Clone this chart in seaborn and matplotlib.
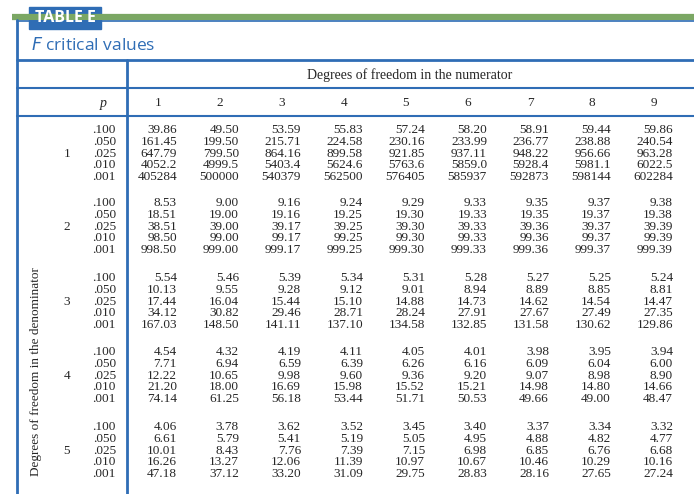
import matplotlib
matplotlib.use("Agg")
import matplotlib.pyplot as plt
import seaborn as sns

sns.set_style("white")

p_levels = [".100", ".050", ".025", ".010", ".001"]
num_df = ["1", "2", "3", "4", "5", "6", "7", "8", "9"]
den_df = ["1", "2", "3", "4", "5"]

den1 = [["39.86", "49.50", "53.59", "55.83", "57.24", "58.20", "58.91", "59.44", "59.86"],
        ["161.45", "199.50", "215.71", "224.58", "230.16", "233.99", "236.77", "238.88", "240.54"],
        ["647.79", "799.50", "864.16", "899.58", "921.85", "937.11", "948.22", "956.66", "963.28"],
        ["4052.2", "4999.5", "5403.4", "5624.6", "5763.6", "5859.0", "5928.4", "5981.1", "6022.5"],
        ["405284", "500000", "540379", "562500", "576405", "585937", "592873", "598144", "602284"]]
den2 = [["8.53", "9.00", "9.16", "9.24", "9.29", "9.33", "9.35", "9.37", "9.38"],
        ["18.51", "19.00", "19.16", "19.25", "19.30", "19.33", "19.35", "19.37", "19.38"],
        ["38.51", "39.00", "39.17", "39.25", "39.30", "39.33", "39.36", "39.37", "39.39"],
        ["98.50", "99.00", "99.17", "99.25", "99.30", "99.33", "99.36", "99.37", "99.39"],
        ["998.50", "999.00", "999.17", "999.25", "999.30", "999.33", "999.36", "999.37", "999.39"]]
den3 = [["5.54", "5.46", "5.39", "5.34", "5.31", "5.28", "5.27", "5.25", "5.24"],
        ["10.13", "9.55", "9.28", "9.12", "9.01", "8.94", "8.89", "8.85", "8.81"],
        ["17.44", "16.04", "15.44", "15.10", "14.88", "14.73", "14.62", "14.54", "14.47"],
        ["34.12", "30.82", "29.46", "28.71", "28.24", "27.91", "27.67", "27.49", "27.35"],
        ["167.03", "148.50", "141.11", "137.10", "134.58", "132.85", "131.58", "130.62", "129.86"]]
den4 = [["4.54", "4.32", "4.19", "4.11", "4.05", "4.01", "3.98", "3.95", "3.94"],
        ["7.71", "6.94", "6.59", "6.39", "6.26", "6.16", "6.09", "6.04", "6.00"],
        ["12.22", "10.65", "9.98", "9.60", "9.36", "9.20", "9.07", "8.98", "8.90"],
        ["21.20", "18.00", "16.69", "15.98", "15.52", "15.21", "14.98", "14.80", "14.66"],
        ["74.14", "61.25", "56.18", "53.44", "51.71", "50.53", "49.66", "49.00", "48.47"]]
den5 = [["4.06", "3.78", "3.62", "3.52", "3.45", "3.40", "3.37", "3.34", "3.32"],
        ["6.61", "5.79", "5.41", "5.19", "5.05", "4.95", "4.88", "4.82", "4.77"],
        ["10.01", "8.43", "7.76", "7.39", "7.15", "6.98", "6.85", "6.76", "6.68"],
        ["16.26", "13.27", "12.06", "11.39", "10.97", "10.67", "10.46", "10.29", "10.16"],
        ["47.18", "37.12", "33.20", "31.09", "29.75", "28.83", "28.16", "27.65", "27.24"]]
groups = [den1, den2, den3, den4, den5]

blue = "#2f6db5"
green = "#7ba764"
serif = "Liberation Serif"

fig = plt.figure(figsize=(6.94, 4.94), dpi=100)
ax = fig.add_axes([0, 0, 1, 1])
ax.set_xlim(0, 694)
ax.set_ylim(494, 0)
ax.axis("off")

# frame
ax.plot([12, 694], [17, 17], color=green, lw=4.5, solid_capstyle="butt")
ax.plot([17, 17], [20, 494], color=blue, lw=2)
ax.plot([17, 694], [21, 21], color=blue, lw=1.2)
ax.plot([17, 694], [60, 60], color=blue, lw=2)
ax.plot([17, 694], [88, 88], color=blue, lw=1.5)
ax.plot([17, 694], [116, 116], color=blue, lw=1.5)
ax.plot([127, 127], [60, 494], color=blue, lw=2)
ax.add_patch(plt.Rectangle((29, 7), 72, 22, color=blue))
ax.text(65, 18, "TABLE E", color="white", fontsize=11.5, fontweight="bold",
        family="Open Sans", ha="center", va="center")
ax.text(31, 45, "$F$ critical values", color=blue, fontsize=12.5, family="Open Sans",
        va="center")

ax.text(410, 75, "Degrees of freedom in the numerator", fontsize=10, family=serif,
        ha="center", va="center")
ax.text(103, 103, "p", fontsize=10, family=serif, style="italic", ha="center", va="center")
xs = [158 + 62 * i for i in range(9)]
for x, lab in zip(xs, num_df):
    ax.text(x, 103, lab, fontsize=9.5, family=serif, ha="center", va="center")

starts = [130, 203, 278, 352, 427]
for y0, lab, g in zip(starts, den_df, groups):
    ax.text(67, y0 + 2 * 11.8, lab, fontsize=9.5, family=serif, ha="center", va="center")
    for r, p in enumerate(p_levels):
        y = y0 + r * 11.8
        ax.text(116, y, p, fontsize=9.5, family=serif, ha="right", va="center")
        for x, v in zip(xs, g[r]):
            ax.text(x + 19, y, v, fontsize=9.5, family=serif, ha="right", va="center")

ax.text(36, 372, "Degrees of freedom in the denominator", fontsize=9.5, family=serif,
        rotation=90, ha="center", va="center")

fig.savefig("out.png", dpi=100)
